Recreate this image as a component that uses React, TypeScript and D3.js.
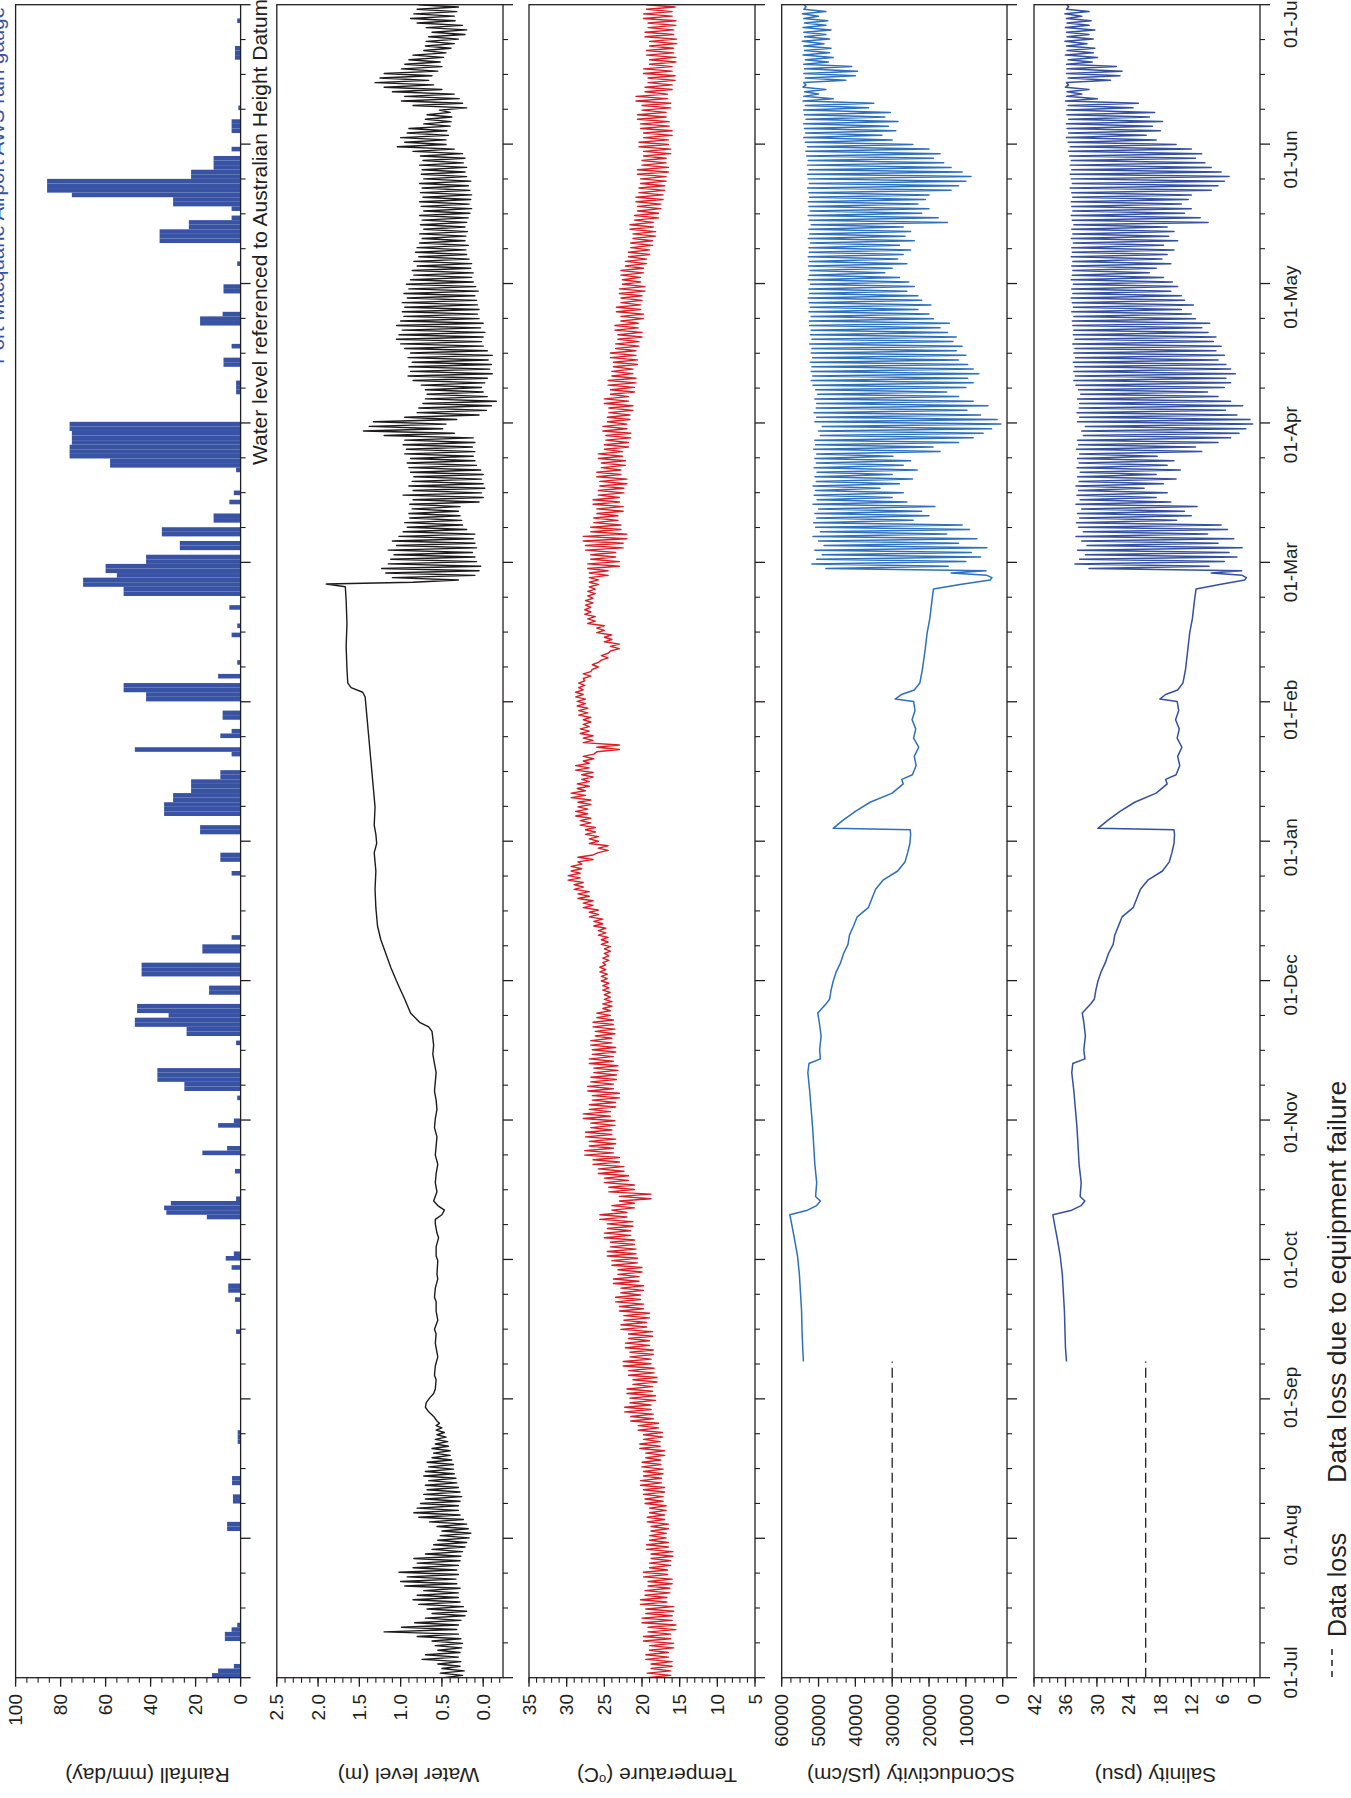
import React from 'react';
import * as d3 from 'd3';

const FONT = '"Liberation Sans", Arial, Helvetica, sans-serif';

// ---------------- DATA ----------------
// time unit: day index on the plotted axis (0 = 01-Jul, 365 = 01-Jul next year)
const monthLabels = ['01-Jul', '01-Aug', '01-Sep', '01-Oct', '01-Nov', '01-Dec', '01-Jan', '01-Feb', '01-Mar', '01-Apr', '01-May', '01-Jun', '01-Jul'];

// daily rainfall [day, mm/day]
const rainfall: [number, number][] = [
  [0, 12.7], [1, 10], [2, 3], [8, 7], [9, 7], [10, 4], [11, 1.5], [32, 6], [33, 6], [38, 3.4], [39, 3.4], [42, 3.8], [43, 3.8], [51, 1.3], [52, 1.3], [53, 1.3],
  [75, 2], [82, 2.5], [84, 5.5], [85, 5.5], [89, 4], [91, 6.6], [92, 3],
  [100, 15], [101, 33], [102, 34], [103, 31], [104, 2], [110, 2.5], [114, 17], [115, 6], [120, 10], [121, 3], [126, 1.5],
  [128, 25], [129, 25], [130, 37], [131, 37], [132, 37], [138, 2], [140, 24], [141, 24], [142, 47], [143, 47], [144, 32], [145, 46], [146, 46], [149, 14], [150, 14],
  [153, 44], [154, 44], [155, 44], [158, 17], [159, 17], [161, 4],
  [175, 4], [178, 9], [179, 9], [184, 18], [185, 18], [188, 34], [189, 34], [190, 34], [191, 30], [192, 30], [193, 22], [194, 22], [195, 22], [196, 9], [197, 9],
  [201, 4], [202, 47], [205, 9], [206, 4], [209, 8], [210, 8], [213, 42], [214, 42], [215, 52], [216, 52], [218, 10], [221, 1.5], [227, 4], [229, 1.5], [233, 5],
  [236, 52], [237, 52], [238, 70], [239, 70], [240, 55], [241, 60], [242, 60], [243, 42], [244, 42], [246, 27], [247, 27], [249, 35], [250, 35], [252, 12], [253, 12], [256, 5], [258, 3],
  [263, 2], [264, 58], [265, 58], [266, 76], [267, 76], [268, 76], [269, 75], [270, 75], [271, 75], [272, 76], [273, 76],
  [280, 2], [281, 2], [282, 2], [286, 7.6], [287, 7.6], [290, 4], [295, 18], [296, 18], [297, 8], [302, 7.6], [303, 7.6], [308, 1.5],
  [313, 36], [314, 36], [315, 36], [316, 23], [317, 23], [318, 4], [320, 4], [321, 30], [322, 30], [323, 75], [324, 86], [325, 86], [326, 86], [327, 22], [328, 22], [329, 12], [330, 12], [331, 12], [333, 4],
  [337, 4], [338, 4], [339, 4], [342, 1], [353, 2.5], [354, 2.5], [355, 2.5], [361, 1.5],
];

// water level (m AHD): tidal envelope Jul-Aug (daily high / low from day 0)
const wlTideAStart = 0;
const wlHighA = [
  0.48, 0.52, 0.50, 0.55, 0.74, 0.70, 0.55, 0.58, 0.62, 0.80,
  1.20, 0.99, 0.83, 0.70, 0.62, 0.68, 0.78, 0.85, 0.80, 0.72,
  0.95, 1.00, 0.92, 1.02, 0.85, 0.80, 0.84, 0.70, 0.62, 0.60,
  0.55, 0.52, 0.50, 0.56, 0.65, 0.78, 0.84, 0.80, 0.76, 0.70,
  0.72, 0.68, 0.70, 0.66, 0.72, 0.70, 0.66, 0.68, 0.62, 0.60,
  0.62, 0.58, 0.58, 0.56, 0.57, 0.57];
const wlLowA = [
  0.25, 0.23, 0.28, 0.27, 0.30, 0.28, 0.26, 0.25, 0.27, 0.30,
  0.32, 0.30, 0.27, 0.22, 0.20, 0.24, 0.28, 0.30, 0.30, 0.28,
  0.32, 0.33, 0.30, 0.32, 0.30, 0.28, 0.27, 0.25, 0.22, 0.20,
  0.17, 0.15, 0.18, 0.20, 0.24, 0.28, 0.30, 0.30, 0.28, 0.26,
  0.28, 0.30, 0.32, 0.33, 0.35, 0.36, 0.36, 0.38, 0.40, 0.40,
  0.42, 0.43, 0.45, 0.47, 0.50, 0.53];
// water level while the entrance was closed [day, m]
const wlClosed: [number, number][] = [
  [56, 0.56], [57, 0.60], [58, 0.66], [59, 0.70], [60, 0.69], [61, 0.65], [62, 0.60], [63, 0.58], [65, 0.57], [66, 0.59], [68, 0.58], [70, 0.55], [71, 0.56], [73, 0.58], [75, 0.57],
  [76, 0.59], [78, 0.55], [80, 0.57], [82, 0.57], [83, 0.59], [85, 0.58], [87, 0.55], [88, 0.56], [91, 0.55], [92, 0.57], [94, 0.57], [96, 0.54], [97, 0.56], [99, 0.58], [100, 0.58],
  [101, 0.50], [102, 0.47], [103, 0.55], [104, 0.60], [106, 0.56], [108, 0.58], [110, 0.57], [112, 0.55], [114, 0.58], [116, 0.57], [118, 0.56], [120, 0.59], [122, 0.58],
  [124, 0.56], [126, 0.57], [128, 0.59], [130, 0.58], [132, 0.57], [134, 0.59], [136, 0.61], [138, 0.60], [141, 0.62], [142, 0.66], [143, 0.77], [145, 0.88], [148, 0.95],
  [150, 1.00], [152, 1.05], [155, 1.12], [158, 1.18], [161, 1.24], [164, 1.28], [168, 1.30], [172, 1.31], [176, 1.30], [180, 1.32], [182, 1.29], [184, 1.30], [186, 1.32],
  [190, 1.31], [194, 1.33], [198, 1.35], [202, 1.37], [206, 1.39], [210, 1.41], [214, 1.43], [215, 1.46], [216, 1.60], [217, 1.64], [220, 1.65], [225, 1.66], [230, 1.65],
  [235, 1.66], [238, 1.67], [238.6, 1.90]];
// tidal envelope after opening (daily high / low from day 239)
const wlTideBStart = 239;
const wlHighB = [
  0.85, 1.10, 1.18, 1.23, 1.15, 1.12, 1.08, 1.15, 1.05, 1.10,
  1.02, 0.97, 0.92, 0.95, 0.89, 0.90, 0.86, 0.89, 0.85, 0.97,
  0.85, 0.90, 0.86, 0.84, 0.88, 0.90, 0.92, 0.88, 0.95, 0.93,
  0.97, 0.95, 1.20, 1.45, 1.38, 1.33, 0.95, 0.80, 0.78, 0.73,
  0.70, 0.68, 0.70, 0.75, 0.85, 0.91, 0.88, 0.90, 0.86, 0.91,
  0.88, 0.95, 1.00, 1.05, 1.02, 0.98, 1.05, 1.00, 0.96, 0.98,
  0.95, 0.98, 0.92, 0.96, 0.90, 0.93, 0.88, 0.84, 0.86, 0.80,
  0.84, 0.78, 0.82, 0.80, 0.77, 0.74, 0.77, 0.72, 0.76, 0.74,
  0.77, 0.72, 0.75, 0.77, 0.73, 0.76, 0.74, 0.77, 0.72, 0.75,
  0.74, 0.77, 0.73, 0.76, 0.85, 1.04, 0.95, 1.00, 0.92, 0.90,
  0.72, 0.70, 0.68, 0.53, 0.85, 0.99, 0.95, 1.10, 1.20, 1.31,
  1.25, 1.20, 0.99, 0.95, 0.90, 0.85, 0.72, 0.70, 0.69, 0.66,
  0.62, 0.69, 0.80, 0.88, 0.84, 0.80, 0.78];
const wlLowB = [
  0.30, 0.10, 0.05, 0.03, 0.08, 0.10, 0.13, 0.08, 0.10, 0.12,
  0.10, 0.20, 0.25, 0.26, 0.28, 0.30, 0.28, 0.05, 0.00, 0.02,
  -0.02, 0.00, 0.02, 0.00, 0.03, 0.08, 0.10, 0.12, 0.10, 0.13,
  0.10, 0.12, 0.35, 0.49, 0.45, 0.32, 0.05, -0.04, -0.10, -0.16,
  -0.05, 0.00, 0.02, -0.02, -0.05, -0.11, -0.08, -0.10, -0.06, -0.11,
  -0.05, 0.00, 0.02, 0.00, -0.02, 0.03, 0.00, 0.05, 0.07, 0.05,
  0.07, 0.08, 0.10, 0.06, 0.09, 0.12, 0.14, 0.12, 0.15, 0.14,
  0.17, 0.20, 0.21, 0.18, 0.22, 0.21, 0.19, 0.22, 0.20, 0.18,
  0.16, 0.14, 0.17, 0.15, 0.14, 0.16, 0.18, 0.15, 0.20, 0.22,
  0.20, 0.24, 0.22, 0.25, 0.35, 0.45, 0.45, 0.42, 0.44, 0.40,
  0.39, 0.38, 0.40, 0.20, 0.25, 0.29, 0.35, 0.50, 0.60, 0.66,
  0.62, 0.55, 0.50, 0.52, 0.48, 0.45, 0.39, 0.35, 0.30, 0.22,
  0.20, 0.25, 0.34, 0.35, 0.32, 0.30, 0.33];

// temperature (°C) envelope, one high/low pair every 2 days from day 0
const tempStart = 0;
const tempHigh = [
  19.3, 18.8, 19.5, 19.0, 19.8, 19.2, 20.0, 19.5, 20.2, 19.6,
  19.2, 19.8, 19.0, 18.8, 19.4, 19.0, 18.8, 19.3, 19.0, 19.6,
  19.8, 20.2, 19.8, 20.0, 19.5, 20.3, 19.8, 20.5, 21.5, 22.3,
  21.6, 22.0, 21.2, 21.8, 22.5, 21.6, 22.2, 21.8, 22.8, 22.4,
  23.0, 23.5, 22.8, 23.8, 23.2, 24.0, 24.6, 24.2, 25.0, 24.6,
  25.6, 24.0, 23.0, 24.4, 25.0, 25.8, 26.5, 27.6, 27.0, 27.5,
  26.8, 27.8, 27.0, 26.6, 27.2, 26.8, 26.4, 27.0, 26.6, 26.8,
  26.2, 26.5, 26.0, 25.2, 25.0, 25.2, 25.4, 25.6, 25.2, 25.0,
  25.4, 25.8, 26.4, 27.0, 27.8, 28.5, 29.0, 29.8, 29.4, 28.5,
  25.8, 27.0, 27.5, 28.2, 28.8, 28.5, 29.4, 28.6, 28.0, 28.8,
  27.8, 26.0, 27.8, 28.2, 27.8, 28.4, 28.6, 28.8, 28.4, 27.8,
  26.6, 25.4, 24.2, 25.0, 26.0, 27.2, 27.6, 27.5, 27.2, 27.0,
  27.0, 27.2, 26.8, 27.5, 27.8, 26.8, 26.4, 26.0, 26.5, 25.8,
  25.6, 26.0, 25.4, 25.8, 25.0, 24.8, 25.2, 24.6, 24.4, 25.0,
  24.2, 24.5, 24.0, 23.8, 24.2, 23.5, 23.2, 23.6, 22.8, 23.4,
  22.8, 23.0, 22.6, 22.8, 22.2, 21.8, 21.5, 21.2, 21.6, 21.0,
  20.6, 20.8, 20.4, 20.2, 20.6, 20.0, 19.8, 20.4, 19.8, 20.2,
  20.6, 20.0, 20.8, 19.6, 19.2, 19.8, 19.0, 19.4, 19.0, 19.6,
  19.2, 19.8, 19.4];
const tempLow = [
  16.2, 16.0, 16.5, 15.8, 16.2, 15.5, 16.0, 15.8, 16.7, 16.3,
  16.0, 16.6, 16.2, 15.9, 16.5, 16.8, 16.5, 17.0, 16.8, 17.2,
  17.0, 17.4, 17.2, 17.5, 17.0, 17.6, 17.3, 17.8, 18.5, 18.8,
  18.2, 18.6, 18.0, 18.4, 18.8, 18.5, 19.0, 18.6, 19.4, 19.0,
  19.8, 20.2, 19.8, 20.4, 20.0, 20.6, 20.8, 21.0, 21.5, 21.2,
  22.0, 21.0, 18.8, 21.0, 21.8, 22.4, 23.0, 23.8, 23.5, 24.0,
  23.6, 24.2, 23.5, 23.0, 23.8, 23.4, 23.2, 23.8, 23.5, 24.0,
  23.6, 23.8, 24.2, 24.0, 24.2, 24.4, 24.6, 24.8, 24.4, 24.2,
  24.5, 24.8, 25.2, 25.8, 26.5, 27.0, 27.8, 28.2, 28.0, 26.5,
  24.5, 25.8, 26.2, 26.8, 27.2, 26.8, 27.5, 27.0, 26.5, 27.0,
  26.4, 23.0, 26.5, 27.0, 26.8, 27.2, 27.5, 27.8, 27.6, 26.8,
  25.8, 24.5, 23.0, 24.0, 25.0, 26.2, 26.8, 26.5, 26.2, 25.8,
  24.5, 23.0, 23.5, 22.5, 22.0, 22.8, 23.2, 22.5, 23.0, 22.4,
  22.0, 22.8, 22.2, 22.6, 21.8, 21.5, 22.0, 21.6, 21.2, 21.8,
  21.0, 20.8, 21.2, 20.6, 20.8, 20.4, 20.0, 20.5, 19.8, 20.2,
  20.0, 19.6, 20.2, 19.8, 19.4, 19.0, 18.6, 18.2, 18.5, 17.8,
  17.5, 17.2, 17.0, 16.8, 16.5, 16.8, 16.2, 16.5, 16.0, 16.4,
  16.8, 16.2, 16.6, 16.0, 15.6, 16.0, 15.5, 15.8, 15.4, 15.8,
  15.5, 16.0, 15.6];

// specific conductivity (µS/cm)
const condLossEnd = 69;
const condLossValue = 30000;
const condClosed: [number, number][] = [
  [69, 54100], [72, 54300], [76, 54500], [80, 54600], [84, 54900], [88, 55200], [92, 55700], [96, 56600], [99, 57300], [101, 57800], [102, 53000], [103, 50500],
  [104, 49500], [105, 50800], [108, 50500], [112, 51000], [116, 51300], [120, 51600], [124, 52000], [128, 52400], [132, 52900], [134, 52600], [135, 49500], [137, 49700],
  [140, 49300], [143, 49800], [145, 50200], [147, 48000], [148, 47000], [150, 46600], [152, 46000], [154, 45200], [156, 44000], [158, 43200], [160, 42000], [162, 41600],
  [164, 40500], [166, 39500], [168, 36500], [170, 35500], [172, 34500], [174, 32500], [176, 28500], [178, 26500], [180, 25800], [182, 25200], [184, 25000], [185, 25100],
  [185.3, 46000], [187, 43500], [189, 40000], [191, 36000], [193, 30000], [195, 27000], [196, 27400], [197, 24500], [199, 23500], [201, 24000], [203, 22800], [205, 24200],
  [207, 23600], [209, 24600], [211, 23800], [213, 24200], [213.5, 29200], [214.5, 27500], [215.5, 24000], [217, 22500], [220, 21800], [224, 21100], [228, 20500], [231, 19800],
  [235, 19200], [237.5, 18800], [238.5, 11600], [239.5, 3400], [240, 2900], [240.5, 4300], [241, 14000], [241.5, 4500]];
const condTideStart = 242;
const condHigh = [
  48000, 51800, 50500, 49000, 51000, 48500, 50000, 51500, 49500, 50800,
  51300, 50500, 51000, 50000, 51500, 50400, 51200, 50800, 51500, 50600,
  51000, 50400, 51200, 50600, 51000, 50500, 51300, 50800, 51000, 49500,
  50000, 49000, 51000, 50500, 51200, 50600, 50500, 51000, 50200, 50800,
  51500, 52000, 51600, 52000, 51800, 52200, 51600, 52000, 51800, 52400,
  51800, 52200, 52000, 52400, 52500, 52000, 52600, 52200, 52500, 52800,
  52400, 52600, 52200, 52800, 52500, 52300, 52700, 52400, 52800, 52500,
  52600, 52200, 52800, 52400, 52600, 52000, 52500, 52800, 52300, 52600,
  52800, 52400, 52600, 53000, 52500, 52800, 53000, 52600, 53000, 52800,
  53200, 53400, 53000, 53600, 54000, 53500, 53800, 54000, 53400, 53800,
  54000, 53600, 54200, 54000, 53800, 54200, 54000, 53600, 54000, 53800,
  54000, 53600, 54200, 53800, 54000, 54400, 53800, 54000, 54200, 53800,
  54000, 54400, 54000, 53800];
const condLow = [
  14800, 10000, 6000, 8500, 4300, 12000, 7000, 15200, 9000, 11000,
  24300, 20000, 22000, 18400, 26000, 30000, 27000, 33300, 28000, 24500,
  30000, 23200, 27000, 25000, 29800, 17000, 18900, 12000, 8000, 5300,
  3000, 500, 1500, 6000, 9700, 4000, 8000, 12000, 15200, 10000,
  8000, 9500, 6500, 8000, 9500, 12000, 10000, 12600, 11000, 13500,
  12600, 15000, 17000, 14500, 18800, 20000, 23000, 19500, 22000, 23000,
  26000, 24000, 25500, 28000, 32000, 30000, 26000, 28500, 27000, 25000,
  28000, 24000, 26500, 25000, 27000, 15000, 17500, 22000, 20000, 23000,
  21000, 20000, 14000, 12000, 10000, 8600, 11000, 14000, 16000, 18800,
  17000, 20000, 24400, 30000, 32800, 29000, 31000, 28400, 32000, 30500,
  36400, 35000, 46000, 50000, 48000, 53400, 42600, 40000, 39400, 41000,
  47300, 46000, 47000, 46600, 48500, 47000, 48000, 46600, 48000, 47500,
  50000, 48000, 53400, 51000];

// salinity (psu)
const salLossEnd = 69;
const salLossValue = 20.7;
const salClosed: [number, number][] = [
  [69, 35.8], [72, 36.0], [76, 36.1], [80, 36.2], [84, 36.4], [88, 36.6], [92, 37.0], [96, 37.6], [99, 38.1], [101, 38.4], [102, 34.8], [103, 33.0],
  [104, 32.3], [105, 33.2], [108, 33.0], [112, 33.4], [116, 33.6], [120, 33.8], [124, 34.1], [128, 34.4], [132, 34.8], [134, 34.6], [135, 32.3], [137, 32.5],
  [140, 32.2], [143, 32.5], [145, 32.8], [147, 31.2], [148, 30.5], [150, 30.2], [152, 29.8], [154, 29.2], [156, 28.4], [158, 27.8], [160, 26.9], [162, 26.6],
  [164, 25.9], [166, 25.2], [168, 23.1], [170, 22.4], [172, 21.7], [174, 20.3], [176, 17.5], [178, 16.2], [180, 15.7], [182, 15.3], [184, 15.2], [185, 15.3],
  [185.3, 29.8], [187, 28.0], [189, 25.6], [191, 22.8], [193, 18.7], [195, 16.6], [196, 16.9], [197, 14.9], [199, 14.2], [201, 14.6], [203, 13.8], [205, 14.7],
  [207, 14.3], [209, 15.0], [211, 14.4], [213, 14.7], [213.5, 18.0], [214.5, 16.9], [215.5, 14.6], [217, 13.6], [220, 13.1], [224, 12.7], [228, 12.3], [231, 11.8],
  [235, 11.4], [237.5, 11.1], [238.5, 6.6], [239.5, 1.8], [240, 1.5], [240.5, 2.3], [241, 8.2], [241.5, 2.4]];
const salTideStart = 242;
const salHigh = [
  31.5, 34.2, 33.3, 32.2, 33.7, 31.9, 32.9, 34.0, 32.6, 33.5,
  33.9, 33.3, 33.7, 32.9, 34.0, 33.2, 33.8, 33.5, 34.0, 33.4,
  33.7, 33.2, 33.8, 33.4, 33.7, 33.3, 33.9, 33.5, 33.7, 32.6,
  32.9, 32.2, 33.7, 33.3, 33.8, 33.4, 33.3, 33.7, 33.1, 33.5,
  34.0, 34.4, 34.1, 34.4, 34.2, 34.5, 34.1, 34.4, 34.2, 34.6,
  34.2, 34.5, 34.4, 34.6, 34.7, 34.4, 34.8, 34.5, 34.7, 34.9,
  34.6, 34.8, 34.5, 34.9, 34.7, 34.6, 34.8, 34.6, 34.9, 34.7,
  34.8, 34.5, 34.9, 34.6, 34.8, 34.4, 34.7, 34.9, 34.6, 34.8,
  34.9, 34.6, 34.8, 35.1, 34.7, 34.9, 35.1, 34.8, 35.1, 34.9,
  35.2, 35.4, 35.1, 35.5, 35.8, 35.4, 35.7, 35.8, 35.4, 35.7,
  35.8, 35.5, 36.0, 35.8, 35.7, 36.0, 35.8, 35.5, 35.8, 35.7,
  35.8, 35.5, 36.0, 35.7, 35.8, 36.1, 35.7, 35.8, 36.0, 35.7,
  35.8, 36.1, 35.8, 35.7];
const salLow = [
  8.6, 5.7, 3.3, 4.8, 2.3, 6.9, 3.9, 8.9, 5.1, 6.3,
  14.8, 12.0, 13.3, 10.9, 15.9, 18.7, 16.6, 21.0, 17.3, 14.9,
  18.7, 14.1, 16.6, 15.3, 18.5, 10.0, 11.2, 6.9, 4.5, 2.9,
  1.6, 0.3, 0.8, 3.3, 5.5, 2.2, 4.5, 6.9, 8.9, 5.7,
  4.5, 5.4, 3.6, 4.5, 5.4, 6.9, 5.7, 7.3, 6.3, 7.8,
  7.3, 8.8, 10.0, 8.5, 11.2, 12.0, 13.9, 11.6, 13.3, 13.9,
  15.9, 14.6, 15.6, 17.3, 20.0, 18.7, 15.9, 17.6, 16.6, 15.3,
  17.3, 14.6, 16.3, 15.3, 16.6, 8.8, 10.3, 13.3, 12.0, 13.9,
  12.6, 12.0, 8.2, 6.9, 5.7, 4.8, 6.3, 8.2, 9.4, 11.2,
  10.0, 12.0, 14.9, 18.7, 20.6, 17.9, 19.4, 17.5, 20.0, 19.0,
  23.1, 22.1, 29.9, 32.9, 31.5, 35.4, 27.4, 25.6, 25.2, 26.3,
  30.9, 29.9, 30.7, 30.4, 31.9, 30.7, 31.5, 30.4, 31.5, 31.1,
  32.9, 31.5, 35.4, 33.7];

// ---------------- HELPERS ----------------
// turn high/low envelope samples into a zig-zag (one tidal cycle per day)
function tide(start: number, step: number, high: number[], low: number[]): [number, number][] {
  const pts: [number, number][] = [];
  high.forEach((h, i) => {
    const t = start + i * step;
    for (let k = 0; k < step; k++) {
      pts.push([t + k, h]);
      pts.push([t + k + 0.5, low[i]]);
    }
  });
  return pts;
}

const DARK = '#231f20';

export default function App() {
  const T0 = 1677.7;
  const T1 = 4.7;
  const tY = d3.scaleLinear().domain([0, 365]).range([T0, T1]);
  const monthLen = 365 / 12;
  const labelY = d3.scaleLinear().domain([0, 12]).range([1672.5, 22]);

  const panels = [
    { id: 'rain', x0: 15.6, x1: 240.6, lo: 0, hi: 100, major: d3.range(0, 101, 20), minor: d3.range(0, 101, 5), fmt: (v: number) => String(v), title: 'Rainfall (mm/day)', titleX: 147.5 },
    { id: 'wl', x0: 276.8, x1: 503, lo: -0.24, hi: 2.5, major: [0, 0.5, 1, 1.5, 2, 2.5], minor: d3.range(-2, 26).map((i) => i / 10), fmt: d3.format('.1f'), title: 'Water level (m)', titleX: 408.5 },
    { id: 'temp', x0: 529, x1: 755, lo: 5, hi: 35, major: d3.range(5, 36, 5), minor: d3.range(5, 36, 1), fmt: (v: number) => String(v), title: 'TEMP', titleX: 657 },
    { id: 'cond', x0: 781.7, x1: 1007, lo: -1170, hi: 60000, major: d3.range(0, 60001, 10000), minor: d3.range(0, 60001, 2500), fmt: (v: number) => String(v), title: 'SConductivity (µS/cm)', titleX: 911 },
    { id: 'sal', x0: 1034, x1: 1260, lo: -1.1, hi: 42, major: d3.range(0, 43, 6), minor: d3.range(0, 42.1, 1.5), fmt: (v: number) => String(v), title: 'Salinity (psu)', titleX: 1155.5 },
  ].map((p) => ({ ...p, x: d3.scaleLinear().domain([p.hi, p.lo]).range([p.x0, p.x1]) }));

  const [pRain, pWl, pTemp, pCond, pSal] = panels;

  const pathOf = (p: any, pts: [number, number][]) =>
    d3.line<[number, number]>().x((d) => p.x(d[1])).y((d) => tY(d[0]))(pts) || '';

  const wlPts = [...tide(wlTideAStart, 1, wlHighA, wlLowA), ...wlClosed, ...tide(wlTideBStart, 1, wlHighB, wlLowB)];
  const tempPts = tide(tempStart, 2, tempHigh, tempLow);
  const condPts = [...condClosed, ...tide(condTideStart, 1, condHigh, condLow)];
  const salPts = [...salClosed, ...tide(salTideStart, 1, salHigh, salLow)];

  const majorT = d3.range(0, 13).map((i) => i * monthLen);
  const minorT = d3.range(0, 12).flatMap((i) => [1, 2, 3].map((k) => (i + k / 4) * monthLen));

  return (
    <svg width={1351} height={1798} style={{ position: 'absolute', left: 0, top: 0, background: '#fff' }} fontFamily={FONT}>
      <defs>
        {panels.map((p) => (
          <clipPath id={`clip-${p.id}`} key={p.id}>
            <rect x={p.x0} y={T1} width={p.x1 - p.x0} height={T0 - T1} />
          </clipPath>
        ))}
      </defs>

      {/* Rainfall bars */}
      <g clipPath="url(#clip-rain)">
        {rainfall.map(([d, v]) => (
          <rect key={d} x={pRain.x(v)} y={tY(d + 1)} width={pRain.x(0) - pRain.x(v)} height={tY(d) - tY(d + 1)} fill="#3953a4" />
        ))}
      </g>

      {/* Water level */}
      <g clipPath="url(#clip-wl)">
        <path d={pathOf(pWl, wlPts)} fill="none" stroke="#1d1b1c" strokeWidth={1.4} strokeLinejoin="round" />
      </g>

      {/* Temperature */}
      <g clipPath="url(#clip-temp)">
        <path d={pathOf(pTemp, tempPts)} fill="none" stroke="#d71f28" strokeWidth={1.4} strokeLinejoin="round" />
      </g>

      {/* Conductivity */}
      <g clipPath="url(#clip-cond)">
        <line x1={pCond.x(condLossValue)} x2={pCond.x(condLossValue)} y1={tY(0)} y2={tY(condLossEnd)} stroke={DARK} strokeWidth={1.3} strokeDasharray="10,5" />
        <path d={pathOf(pCond, condPts)} fill="none" stroke="#2e70bb" strokeWidth={1.5} strokeLinejoin="round" />
      </g>

      {/* Salinity */}
      <g clipPath="url(#clip-sal)">
        <line x1={pSal.x(salLossValue)} x2={pSal.x(salLossValue)} y1={tY(0)} y2={tY(salLossEnd)} stroke={DARK} strokeWidth={1.3} strokeDasharray="10,5" />
        <path d={pathOf(pSal, salPts)} fill="none" stroke="#34509f" strokeWidth={1.5} strokeLinejoin="round" />
      </g>

      {/* Frames, ticks, labels */}
      {panels.map((p) => (
        <g key={`ax-${p.id}`}>
          <rect x={p.x0} y={T1} width={p.x1 - p.x0} height={T0 - T1} fill="none" stroke={DARK} strokeWidth={1.3} />
          {majorT.map((t) => (
            <line key={`M${t}`} x1={p.x1} x2={p.x1 + 10} y1={tY(t)} y2={tY(t)} stroke={DARK} strokeWidth={1.3} />
          ))}
          {minorT.map((t) => (
            <line key={`m${t}`} x1={p.x1} x2={p.x1 + 5} y1={tY(t)} y2={tY(t)} stroke={DARK} strokeWidth={1.1} />
          ))}
          {p.minor.map((v: number) => (
            <line key={`vm${v}`} x1={p.x(v)} x2={p.x(v)} y1={T0} y2={T0 + 5} stroke={DARK} strokeWidth={1.1} />
          ))}
          {p.major.map((v: number) => (
            <g key={`vM${v}`}>
              <line x1={p.x(v)} x2={p.x(v)} y1={T0} y2={T0 + 9} stroke={DARK} strokeWidth={1.3} />
              <text transform={`translate(${p.x(v)},1694) rotate(-90)`} textAnchor="end" dy="0.35em" fontSize={19} fill={DARK}>
                {p.fmt(v)}
              </text>
            </g>
          ))}
          <text transform={`translate(${p.titleX},1768) rotate(180)`} textAnchor="middle" fontSize={21} fill={DARK}>
            {p.id === 'temp' ? (
              <>
                Temperature (<tspan dy={-7} fontSize={13}>o</tspan>
                <tspan dy={7}>C)</tspan>
              </>
            ) : (
              p.title
            )}
          </text>
        </g>
      ))}

      {/* Month labels */}
      {monthLabels.map((m, i) => (
        <text key={`lab${i}`} transform={`translate(1297,${labelY(i)}) rotate(-90)`} textAnchor="middle" fontSize={19} fill={DARK}>
          {m}
        </text>
      ))}

      {/* Annotations */}
      <text transform="translate(4,364) rotate(-90)" fontSize={20.5} fill="#3953a4">
        Port Macquarie Airport AWS rain gauge
      </text>
      <text transform="translate(267,465) rotate(-90)" fontSize={21} fill={DARK}>
        Water level referenced to Australian Height Datum
      </text>

      {/* Legend */}
      <line x1={1332} x2={1332} y1={1677} y2={1646} stroke={DARK} strokeWidth={1.5} strokeDasharray="6,5" />
      <text transform="translate(1346,1637) rotate(-90)" fontSize={25} fill={DARK}>
        Data loss
      </text>
      <text transform="translate(1346,1483) rotate(-90)" fontSize={26.5} fill={DARK}>
        Data loss due to equipment failure
      </text>
    </svg>
  );
}
